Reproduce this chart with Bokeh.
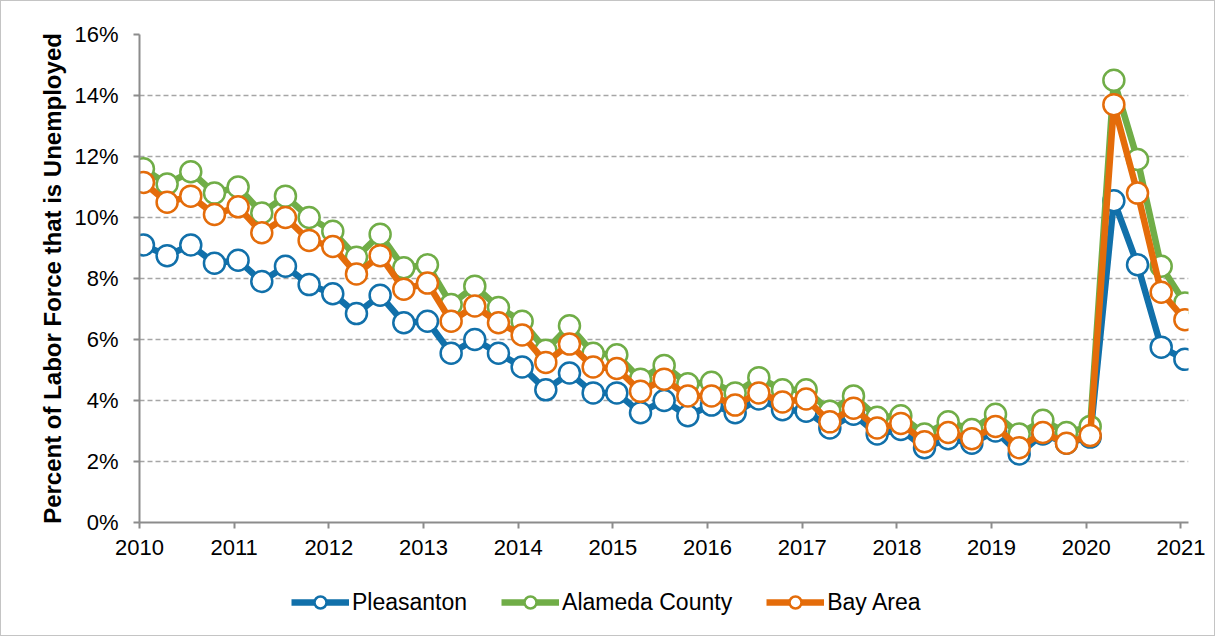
from bokeh.plotting import figure
from bokeh.layouts import column
from bokeh.models import (Range1d, FixedTicker, PrintfTickFormatter, Legend, LegendItem,
                          ColumnDataSource)
from bokeh.embed import file_html
from bokeh.resources import INLINE

# ---------------- data ----------------
years = list(range(2010, 2021))
quarter_labels = [f"{y} Q{q}" for y in years for q in (1, 2, 3, 4)] + ["2021 Q1"]

pleasanton = [9.1, 8.75, 9.1, 8.5, 8.6, 7.9, 8.4, 7.8, 7.5, 6.85,
              7.45, 6.55, 6.6, 5.55, 6.0, 5.55, 5.1, 4.35, 4.9, 4.25,
              4.25, 3.6, 4.0, 3.5, 3.85, 3.6, 4.05, 3.7, 3.65, 3.1,
              3.55, 2.9, 3.05, 2.45, 2.75, 2.6, 3.0, 2.25, 2.9, 2.6,
              2.8, 10.55, 8.45, 5.75, 5.35]
alameda = [11.6, 11.1, 11.5, 10.8, 11.0, 10.15, 10.7, 10.0, 9.55, 8.7,
           9.45, 8.35, 8.45, 7.15, 7.75, 7.05, 6.6, 5.65, 6.45, 5.55,
           5.5, 4.7, 5.15, 4.55, 4.6, 4.25, 4.75, 4.35, 4.35, 3.65,
           4.15, 3.45, 3.5, 2.9, 3.3, 3.05, 3.55, 2.9, 3.35, 2.95,
           3.15, 14.5, 11.9, 8.4, 7.2]
bay_area = [11.15, 10.5, 10.7, 10.1, 10.35, 9.5, 10.0, 9.25, 9.05, 8.15,
            8.75, 7.65, 7.85, 6.6, 7.1, 6.55, 6.15, 5.25, 5.85, 5.1,
            5.05, 4.3, 4.7, 4.15, 4.15, 3.85, 4.25, 3.95, 4.05, 3.3,
            3.75, 3.1, 3.25, 2.65, 2.95, 2.75, 3.15, 2.45, 2.95, 2.6,
            2.85, 13.7, 10.8, 7.55, 6.65]

series_names = ["Pleasanton", "Alameda County", "Bay Area"]
series_colors = ["#1170AA", "#70AD47", "#E46C0A"]
x_tick_years = list(range(2010, 2022))
y_ticks = [0, 2, 4, 6, 8, 10, 12, 14, 16]


def quarter_to_x(label):
    y, q = label.split(" Q")
    month = (int(q) - 1) * 3 + 1
    return int(y) + (month - 0.5) / 12.0


xs = [quarter_to_x(l) for l in quarter_labels]

FONT = "Liberation Sans"
LINE_W = 6.5
MARK_SIZE = 21

# ---------------- main chart ----------------
p = figure(width=1213, height=572, output_backend="svg", toolbar_location=None,
           x_range=Range1d(2010, 2021.08), y_range=Range1d(0, 16),
           min_border_left=138, min_border_right=26, min_border_top=33,
           min_border_bottom=51)
p.outline_line_color = None
p.background_fill_color = "white"
p.border_fill_color = "white"

p.xaxis.ticker = FixedTicker(ticks=x_tick_years)
p.xaxis.formatter = PrintfTickFormatter(format="%d")
p.yaxis.ticker = FixedTicker(ticks=y_ticks)
p.yaxis.formatter = PrintfTickFormatter(format="%d%%")
for ax in (p.xaxis[0], p.yaxis[0]):
    ax.axis_line_color = "#8C8C8C"
    ax.axis_line_width = 2
    ax.major_tick_line_color = "#8C8C8C"
    ax.major_tick_line_width = 2
    ax.major_tick_in = 0
    ax.major_tick_out = 6
    ax.minor_tick_line_color = None
    ax.major_label_text_font = FONT
    ax.major_label_text_font_size = "22px"
    ax.major_label_text_color = "black"
p.xaxis.major_label_standoff = 11
p.yaxis.major_label_standoff = 15
p.yaxis.axis_label = "Percent of Labor Force that is Unemployed"
p.yaxis.axis_label_text_font = FONT
p.yaxis.axis_label_text_font_size = "24px"
p.yaxis.axis_label_text_font_style = "bold"
p.yaxis.axis_label_text_color = "black"
p.yaxis.axis_label_standoff = 5

p.xgrid.grid_line_color = None
p.ygrid.ticker = FixedTicker(ticks=y_ticks[1:])
p.ygrid.grid_line_color = "#A6A6A6"
p.ygrid.grid_line_width = 1.5
p.ygrid.grid_line_dash = "5 3"

sources = []
for name, vals, col in zip(series_names, [pleasanton, alameda, bay_area], series_colors):
    src = ColumnDataSource(dict(x=xs, y=vals))
    sources.append(src)
    p.line("x", "y", source=src, line_color=col, line_width=LINE_W)
    p.scatter("x", "y", source=src, marker="circle", size=MARK_SIZE,
              fill_color="white", line_color=col, line_width=2.5)

# ---------------- legend strip ----------------
# Its frame is aligned with the main chart's frame by the column layout; the
# renderers reuse the series data, which lies outside this strip's ranges.
lg = figure(width=1213, height=62, output_backend="svg", toolbar_location=None,
            x_range=Range1d(0, 1), y_range=Range1d(0, 1),
            min_border_left=0, min_border_right=0, min_border_top=0, min_border_bottom=0)
lg.axis.visible = False
lg.grid.visible = False
lg.outline_line_color = None
lg.background_fill_color = "white"
lg.border_fill_color = "white"

items = []
for name, col, src in zip(series_names, series_colors, sources):
    ln = lg.line("x", "y", source=src, line_color=col, line_width=LINE_W)
    mk = lg.scatter("x", "y", source=src, marker="circle", size=MARK_SIZE,
                    fill_color="white", line_color=col, line_width=2.5)
    items.append(LegendItem(label=name, renderers=[ln, mk]))

legend = Legend(items=items, orientation="horizontal", location=(152, 18),
                glyph_width=58, glyph_height=30, label_standoff=3, spacing=34,
                padding=0, margin=0, border_line_alpha=0, background_fill_alpha=0,
                label_text_font=FONT, label_text_font_size="23px",
                label_text_color="black")
lg.add_layout(legend, "center")

layout = column(p, lg, spacing=0)
layout.styles = {"border": "1px solid #c4c4c4"}

open("out.html", "w").write(file_html(layout, INLINE))
